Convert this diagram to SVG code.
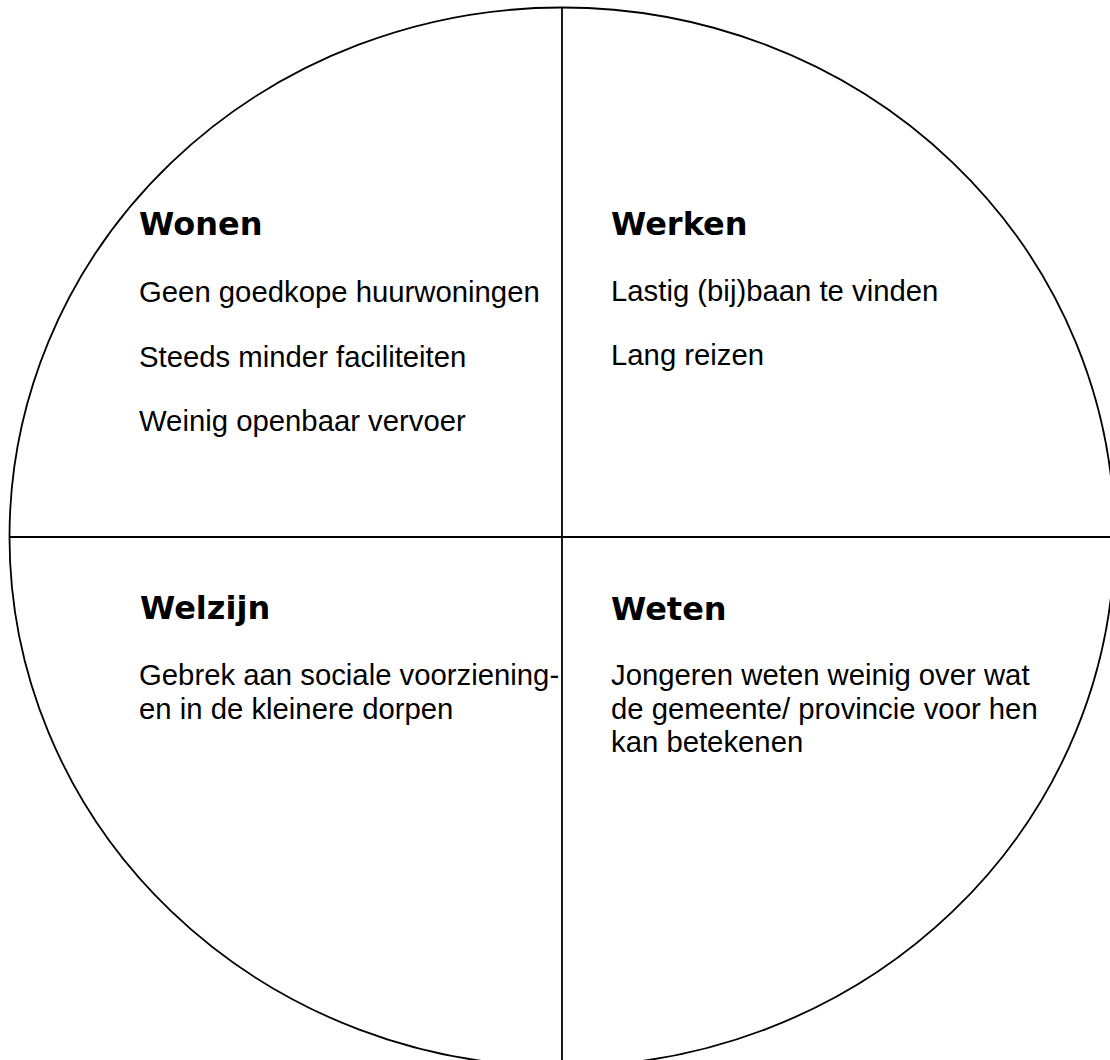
<svg xmlns="http://www.w3.org/2000/svg" width="1110" height="1060" viewBox="0 0 1110 1060">
<style>
.ln{stroke:#000;stroke-width:1.8;fill:none}
.h{font-family:"DejaVu Sans",Verdana,sans-serif;font-weight:bold;font-size:32px;fill:#000}
.t{font-family:"Liberation Sans",Arial,sans-serif;font-size:29.3px;fill:#000}
</style>
<rect width="1110" height="1060" fill="#fff"/>
<g id="connectors">
<ellipse class="ln" cx="562" cy="537" rx="552.5" ry="529.5"/>
<line class="ln" x1="562" y1="7.5" x2="562" y2="1060"/>
<line class="ln" x1="9.5" y1="537" x2="1110" y2="537"/>
</g>
<g id="wonen">
<text class="h" x="139" y="235">Wonen</text>
<text class="t" x="139" y="302">Geen goedkope huurwoningen</text>
<text class="t" x="139" y="366.5">Steeds minder faciliteiten</text>
<text class="t" x="139" y="431">Weinig openbaar vervoer</text>
</g>
<g id="werken">
<text class="h" x="611" y="235">Werken</text>
<text class="t" x="611" y="301">Lastig (bij)baan te vinden</text>
<text class="t" x="611" y="365">Lang reizen</text>
</g>
<g id="welzijn">
<text class="h" x="140" y="619">Welzijn</text>
<text class="t" x="139" y="685">Gebrek aan sociale voorziening-</text>
<text class="t" x="139" y="718.5">en in de kleinere dorpen</text>
</g>
<g id="weten">
<text class="h" x="611" y="620">Weten</text>
<text class="t" x="611" y="685">Jongeren weten weinig over wat</text>
<text class="t" x="611" y="718.5">de gemeente/ provincie voor hen</text>
<text class="t" x="611" y="752">kan betekenen</text>
</g>
</svg>
